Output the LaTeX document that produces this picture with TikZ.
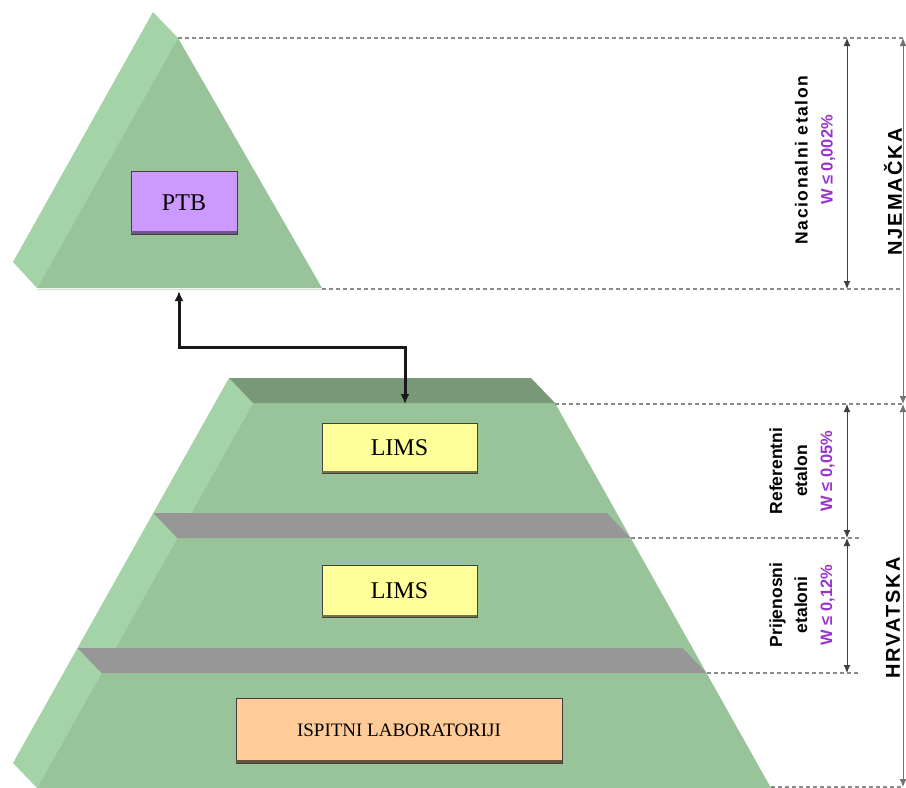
\documentclass[tikz,border=0pt]{standalone}
\usepackage{fontspec}
\setmainfont{Liberation Serif}
\newfontfamily\lsans{Liberation Sans}
\newfontfamily\lsansnac[LetterSpace=9]{Liberation Sans}
\newfontfamily\lsansspaced[LetterSpace=10]{Liberation Sans}
\usetikzlibrary{arrows.meta}
\definecolor{gside}{HTML}{A3D3A6}
\definecolor{gfront}{HTML}{99C399}
\definecolor{gtop}{HTML}{789878}
\definecolor{gband}{HTML}{979797}
\definecolor{ptbfill}{HTML}{CC99FF}
\definecolor{limsfill}{HTML}{FFFF99}
\definecolor{labfill}{HTML}{FFCC99}
\definecolor{wpurple}{HTML}{9933CC}
\definecolor{dashgray}{HTML}{8A8A8A}
\tikzset{
  sideface/.style={fill=gside,draw=none},
  frontface/.style={fill=gfront,draw=none},
  topface/.style={fill=gtop,draw=none},
  bandface/.style={fill=gband,draw=none},
  levelbox/.style={draw=black!75,line width=1pt,inner sep=0pt,font=\fontsize{24}{26}\selectfont},
  dimdash/.style={draw=dashgray,line width=1.1pt,dash pattern=on 4pt off 3pt},
  dimarrow/.style={draw=black!75,line width=1pt,{Latex[length=8pt,width=7pt]}-{Latex[length=8pt,width=7pt]}},
  linkarrow/.style={draw=black!90,line width=3pt,{Latex[length=10pt,width=9pt]}-{Latex[length=10pt,width=9pt]}},
  sidelabel/.style={rotate=90,align=center,font=\lsans\bfseries\fontsize{17.5}{25}\selectfont,inner sep=0pt},
  countrylabel/.style={rotate=90,font=\lsansspaced\bfseries\fontsize{20}{22}\selectfont,inner sep=0pt},
}
\newcommand{\wval}[1]{{\lsans\bfseries\color{wpurple}\fontsize{16.5}{25}\selectfont #1}}
\begin{document}
\begin{tikzpicture}[x=1pt,y=-1pt]
\useasboundingbox (0,0) rectangle (906,788);
% top triangle (PTB)
\fill[sideface] (153,12) -- (178,38) -- (37,288) -- (13,262) -- cycle;
\fill[frontface] (178,38) -- (322,288) -- (37,288) -- cycle;
\draw[gside!60!white,line width=1.5pt] (37,289.5) -- (322,289.5);
% lower frustum
\fill[sideface] (229,378) -- (253,403) -- (37,788) -- (13,763) -- cycle;
\fill[frontface] (253,403) -- (555,403) -- (771,788) -- (37,788) -- cycle;
\fill[topface] (229,378) -- (531,378) -- (555,403) -- (253,403) -- cycle;
\fill[bandface] (153.3,513) -- (606.7,513) -- (630.7,538) -- (177.3,538) -- cycle;
\fill[bandface] (77.5,648) -- (682.5,648) -- (706.5,673) -- (101.5,673) -- cycle;

% boxes
\node[levelbox,fill=ptbfill,minimum width=106pt,minimum height=63pt] (ptb) at (184,202.5) {PTB};
\node[levelbox,fill=limsfill,minimum width=155pt,minimum height=50pt] (lims1) at (399.5,448) {LIMS};
\node[levelbox,fill=limsfill,minimum width=155pt,minimum height=52pt] (lims2) at (399.5,591) {LIMS};
\node[levelbox,fill=labfill,minimum width=326pt,minimum height=65pt,font=\fontsize{19}{21}\selectfont] (lab) at (399,730.5) {ISPITNI LABORATORIJI};
\draw[ptbfill!55!black,line width=2.5pt] ([yshift=1.8pt,xshift=0.5pt]ptb.south west) -- ([yshift=1.8pt,xshift=-0.5pt]ptb.south east);
\draw[limsfill!45!black,line width=2pt] ([yshift=1.5pt,xshift=0.5pt]lims1.south west) -- ([yshift=1.5pt,xshift=-0.5pt]lims1.south east);
\draw[limsfill!45!black,line width=2pt] ([yshift=1.5pt,xshift=0.5pt]lims2.south west) -- ([yshift=1.5pt,xshift=-0.5pt]lims2.south east);
\draw[labfill!40!black,line width=2.5pt] ([yshift=1.8pt,xshift=0.5pt]lab.south west) -- ([yshift=1.8pt,xshift=-0.5pt]lab.south east);

% link arrow
\coordinate (tribase) at (179,291);
\coordinate (frustop) at (405,404);
\draw[linkarrow] (tribase) -- (179,347) -| (frustop);

% dashed level lines
\coordinate (apex) at (178,38);
\coordinate (triright) at (322,289);
\coordinate (topright) at (555,404);
\coordinate (band1r) at (631,538);
\coordinate (band2r) at (707,673);
\coordinate (botright) at (771,787);
\coordinate (r38) at (903,38);
\coordinate (r289) at (903,289);
\coordinate (r404) at (903,404);
\coordinate (r538) at (862,538);
\coordinate (r673) at (858,673);
\coordinate (r788) at (903,787);
\draw[dimdash] (apex) -- (r38);
\draw[dimdash] (triright) -- (r289);
\draw[dimdash] (topright) -- (r404);
\draw[dimdash] (band1r) -- (r538);
\draw[dimdash] (band2r) -- (r673);
\draw[dimdash] (botright) -- (r788);

% dimension arrows
\coordinate (d1a) at (847,38);
\coordinate (d1b) at (847,289);
\coordinate (d2a) at (847,404);
\coordinate (d2b) at (847,538);
\coordinate (d3b) at (847,673);
\draw[dimarrow] (d1a) -- (d1b);
\draw[dimarrow] (d2a) -- (d2b);
\draw[dimarrow] (d2b) -- (d3b);
\draw[dimarrow,draw=black!55] (r38) -- (r404);
\draw[dimarrow,draw=black!55] (r404) -- (r788);

% labels
\node[sidelabel] (nac) at (815,160) {{\lsansnac\bfseries Nacionalni etalon}\\\wval{W ≤ 0,002\%}};
\node[sidelabel] (ref) at (802,471) {Referentni\\etalon\\\wval{W ≤ 0,05\%}};
\node[sidelabel] (pri) at (802,605) {Prijenosni\\etaloni\\\wval{W ≤ 0,12\%}};
\node[countrylabel] (de) at (893,192) {NJEMAČKA};
\node[countrylabel] (hr) at (893,618) {HRVATSKA};
\end{tikzpicture}
\end{document}
